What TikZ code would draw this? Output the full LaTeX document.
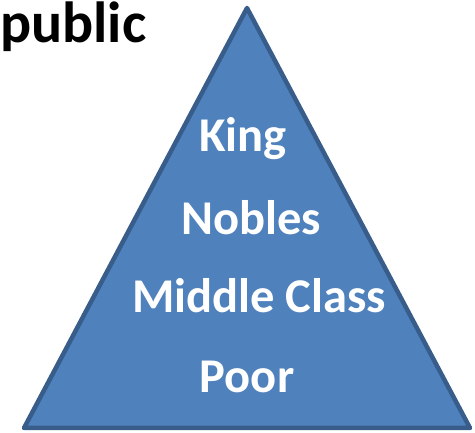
\documentclass[tikz,border=0pt]{standalone}
\usepackage{fontspec}
\setmainfont{Carlito}
\usepackage{xcolor}
\usetikzlibrary{positioning}
\definecolor{pyrfill}{HTML}{4F81BD}
\definecolor{pyredge}{HTML}{385D8A}

\begin{document}
\begin{tikzpicture}[
    x=1pt, y=-1pt,
    pyramid/.style={draw=pyredge, fill=pyrfill, line width=4.5pt, line join=round},
    rank/.style={anchor=base, text=white, inner sep=0pt, font=\fontsize{48.5}{54}\selectfont\bfseries},
    heading/.style={anchor=base west, text=black, inner sep=0pt, font=\fontsize{58}{64}\selectfont\bfseries}
]
\useasboundingbox (0,0) rectangle (475,433);

% pyramid outline
\coordinate (apex) at (247,8);
\coordinate (baseL) at (24,428);
\coordinate (baseR) at (470,428);
\draw[pyramid] (apex) -- (baseL) -- (baseR) -- cycle;

% title, cut by the left edge in the reference
\node[heading] (title) at (0,43) {public};

% social ranks
\node[rank] (king) at (243,152) {King};
\node[rank] (nobles) at (251,235) {Nobles};
\node[rank] (middle) at (259,313) {Middle Class};
\node[rank] (poor) at (247,393) {Poor};

\end{tikzpicture}
\end{document}
